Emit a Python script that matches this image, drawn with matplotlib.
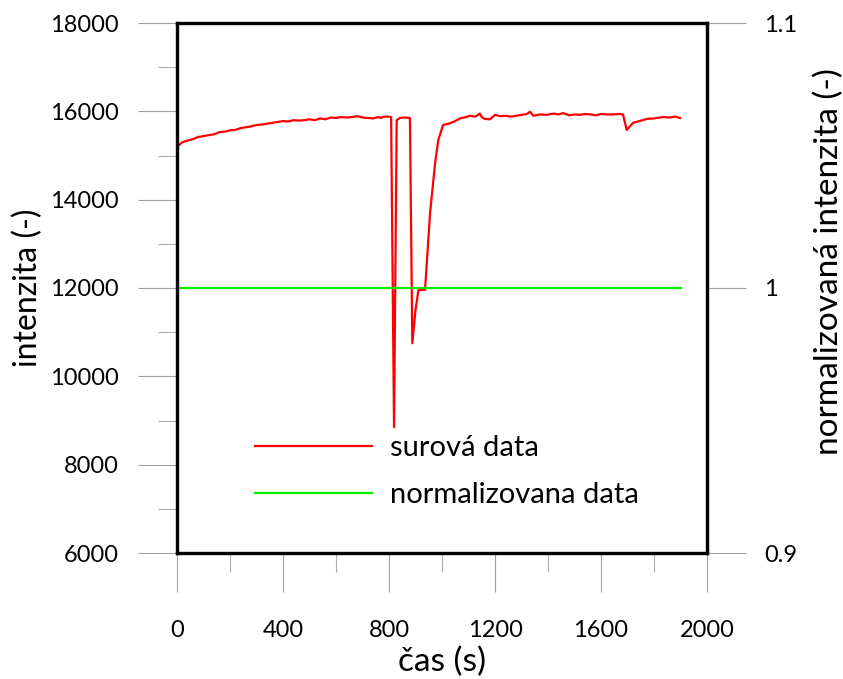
import matplotlib
matplotlib.use("Agg")
import matplotlib.pyplot as plt
from matplotlib.ticker import MultipleLocator

plt.rcParams['font.family'] = ['Lato', 'DejaVu Sans']

# raw intensity
cas = [0, 20, 40, 60, 80, 100, 120, 140, 160, 180, 200, 220, 240, 260, 280,
       300, 320, 340, 360, 380, 400, 420, 440, 460, 480, 500, 520, 540, 560,
       580, 600, 620, 640, 660, 680, 700, 720, 740, 760, 770, 780, 800, 808,
       819, 829, 841, 860, 879, 888, 900, 911, 936, 955, 974, 986, 1004,
       1030, 1050, 1068, 1090, 1106, 1125, 1143, 1150, 1160, 1181, 1200,
       1220, 1240, 1260, 1280, 1300, 1320, 1332, 1345, 1370, 1395, 1420,
       1440, 1457, 1480, 1500, 1520, 1540, 1560, 1580, 1600, 1620, 1645,
       1670, 1683, 1697, 1721, 1745, 1774, 1800, 1834, 1859, 1880, 1898]
surova = [15200, 15300, 15340, 15370, 15420, 15440, 15460, 15480, 15530,
          15540, 15570, 15580, 15620, 15640, 15660, 15690, 15700, 15720,
          15740, 15760, 15780, 15770, 15800, 15790, 15800, 15820, 15800,
          15840, 15820, 15860, 15850, 15870, 15860, 15870, 15890, 15860,
          15850, 15840, 15870, 15850, 15880, 15880, 15870,
          8850, 15800, 15850, 15860, 15850, 10750, 11500, 11950, 11960,
          13700, 14830, 15350, 15690, 15730, 15780, 15840, 15870, 15900,
          15880, 15950, 15870, 15830, 15820, 15920, 15890, 15900, 15880,
          15900, 15920, 15940, 15990, 15900, 15930, 15920, 15950, 15930,
          15960, 15910, 15930, 15920, 15940, 15930, 15910, 15940, 15930,
          15930, 15940, 15930, 15580, 15740, 15780, 15830, 15840, 15870,
          15860, 15880, 15850]

# normalised data
cas_norm = [0, 1900]
normalizovana = [1.0, 1.0]

fig = plt.figure(figsize=(8.43, 6.79), dpi=100)
ax = fig.add_axes([177 / 843, 126 / 679, 530 / 843, 530 / 679])
ax2 = ax.twinx()

l1, = ax.plot(cas, surova, color='#ff0000', lw=1.6, label='surová data')
l2, = ax2.plot(cas_norm, normalizovana, color='#00ee00', lw=1.6,
               label='normalizovana data')

ax.set_xlim(0, 2000)
ax.set_ylim(6000, 18000)
ax2.set_ylim(0.9, 1.1)

ax.xaxis.set_major_locator(MultipleLocator(400))
ax.xaxis.set_minor_locator(MultipleLocator(200))
ax.yaxis.set_major_locator(MultipleLocator(2000))
ax.yaxis.set_minor_locator(MultipleLocator(1000))
ax2.set_yticks([0.9, 1.0, 1.1])
ax2.set_yticklabels(['0.9', '1', '1.1'])

tick_col = '#a0a0a0'
ax.tick_params(axis='both', which='major', length=28, width=0.8,
               color=tick_col, labelsize=17, direction='out')
ax.tick_params(axis='x', which='major', pad=20)
ax.tick_params(axis='y', which='major', pad=14)
ax.tick_params(axis='both', which='minor', length=14, width=0.8,
               color='#b0b0b0')
ax2.tick_params(axis='y', which='major', length=28, width=0.8,
                color=tick_col, labelsize=17, pad=13)

for a in (ax, ax2):
    for s in a.spines.values():
        s.set_linewidth(2.3)
        s.set_color('black')

fig.text(442 / 843, 1 - 662 / 679, 'čas (s)', fontsize=24,
         ha='center', va='center')
fig.text(28 / 843, 1 - 288 / 679, 'intenzita (-)', fontsize=23,
         ha='center', va='center', rotation=90)
fig.text(829 / 843, 1 - 262 / 679, 'normalizovaná intenzita (-)',
         fontsize=24, ha='center', va='center', rotation=90)

ax2.legend(handles=[l1, l2], loc='center left',
           bbox_to_anchor=(0.147, 0.153), frameon=False, fontsize=21,
           handlelength=4.0, handletextpad=0.62, labelspacing=0.72,
           borderpad=0, borderaxespad=0)

fig.savefig('out.png', dpi=100)
